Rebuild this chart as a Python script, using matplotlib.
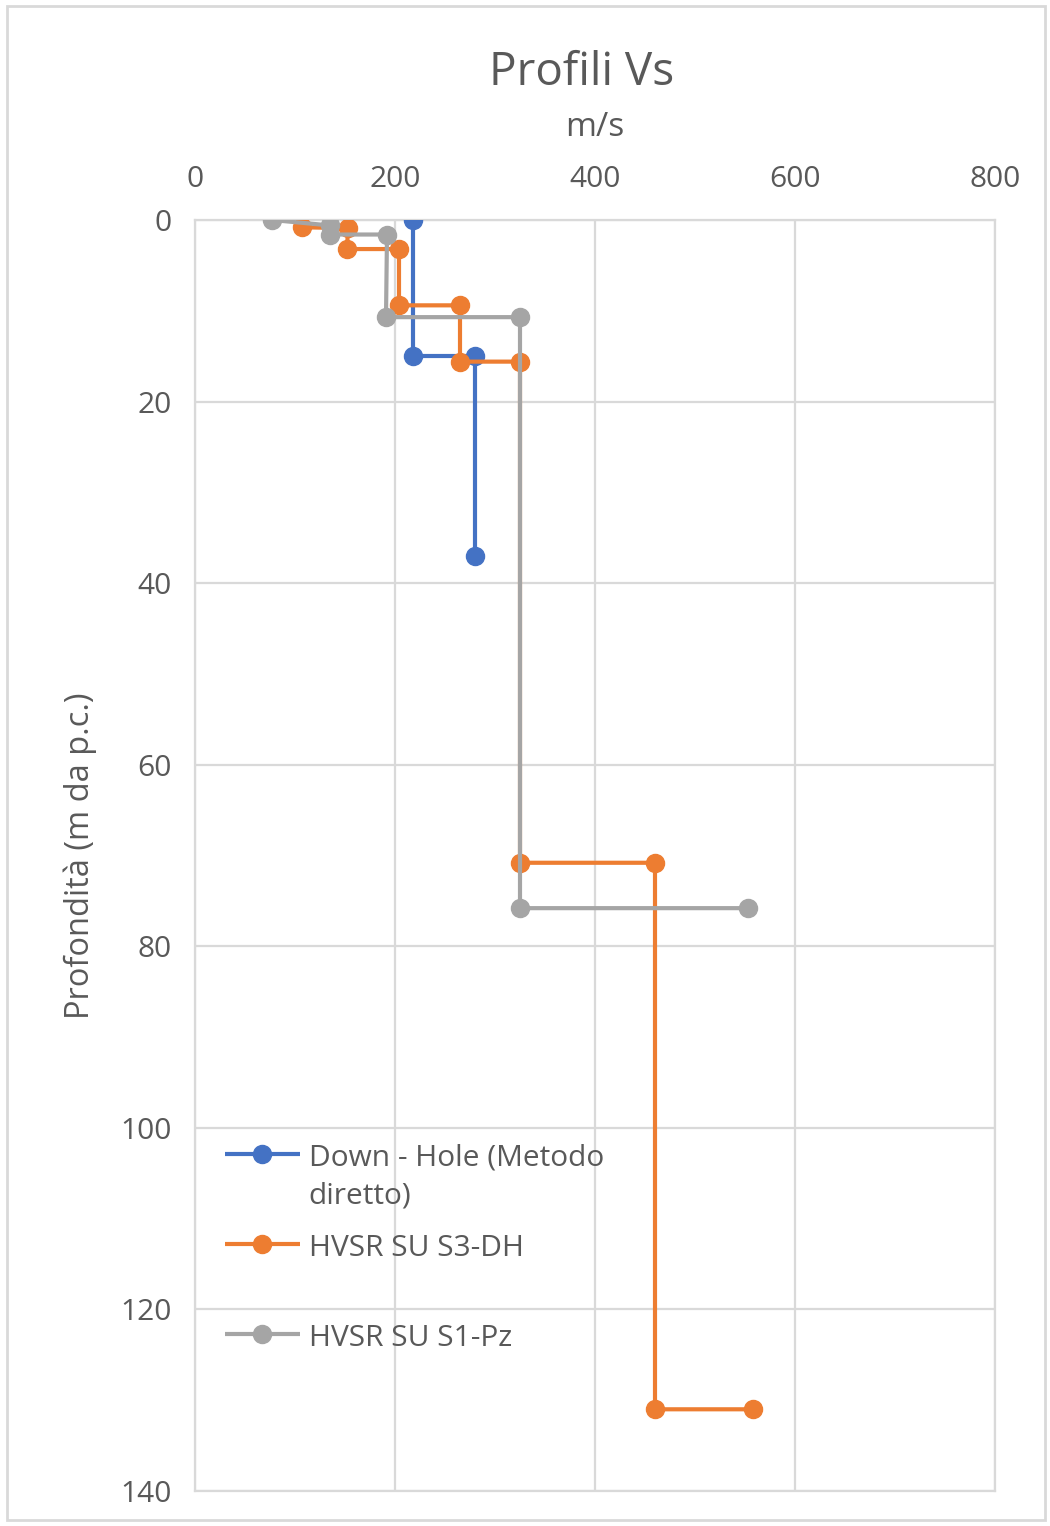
import matplotlib
matplotlib.use("Agg")
import matplotlib.pyplot as plt
from matplotlib.legend_handler import HandlerLine2D
from matplotlib.patches import Rectangle

# Vs profiles (m/s) vs depth (m)
dh_vs = [218, 218, 280, 280]
dh_depth = [0, 15.0, 15.0, 37.0]

s3_vs = [107, 153, 152, 204, 204, 265, 265, 325, 325, 460, 460, 558]
s3_depth = [0.8, 0.9, 3.2, 3.2, 9.4, 9.4, 15.6, 15.6, 70.8, 70.8, 131.0, 131.0]

s1_vs = [77, 135, 135, 192, 191, 325, 325, 553]
s1_depth = [0, 0.6, 1.6, 1.6, 10.7, 10.7, 75.8, 75.8]

series_labels = ["Down - Hole (Metodo\ndiretto)", "HVSR SU S3-DH\n ", "HVSR SU S1-Pz\n "]
series_colors = ["#4472C4", "#ED7D31", "#A5A5A5"]

x_ticks = [0, 200, 400, 600, 800]
y_ticks = [0, 20, 40, 60, 80, 100, 120, 140]

text_color = "#595959"
grid_color = "#D9D9D9"

plt.rcParams["font.family"] = ["Open Sans", "DejaVu Sans"]


class FirstLineHandler(HandlerLine2D):
    # put the legend handle next to the first line of the label, like Excel
    def create_artists(self, legend, orig_handle, xdescent, ydescent,
                       width, height, fontsize, trans):
        shift = 0.8 * fontsize
        return super().create_artists(legend, orig_handle, xdescent,
                                      ydescent - 2 * shift, width, height,
                                      fontsize, trans)


fig = plt.figure(figsize=(10.5, 15.26), dpi=100)
ax = fig.add_axes([195 / 1050, 1 - 1491 / 1526, 800 / 1050, 1271 / 1526])

lines = []
for xs, ys, col, lab in zip([dh_vs, s3_vs, s1_vs], [dh_depth, s3_depth, s1_depth],
                            series_colors, series_labels):
    ln, = ax.plot(xs, ys, color=col, lw=3, marker="o", ms=13, label=lab,
                  solid_capstyle="butt", zorder=3)
    lines.append(ln)

ax.set_xlim(0, 800)
ax.set_ylim(140, 0)
ax.set_xticks(x_ticks)
ax.set_yticks(y_ticks)
ax.xaxis.tick_top()
ax.xaxis.set_label_position("top")
ax.tick_params(axis="both", length=0, labelsize=21.5, colors=text_color)
ax.tick_params(axis="x", pad=19)
ax.tick_params(axis="y", pad=17)
ax.grid(True, color=grid_color, lw=1.6)
for sp in ax.spines.values():
    sp.set_color(grid_color)
    sp.set_linewidth(1.6)
ax.set_axisbelow(True)

ax.set_xlabel("m/s", fontsize=24, color=text_color, va="center")
ax.xaxis.set_label_coords(0.5, 1 + 93 / 1271)
ax.set_ylabel("Profondità (m da p.c.)", fontsize=23.5, color=text_color, va="center")
ax.yaxis.set_label_coords(-(195 - 80) / 800, 0.5)

fig.text(582 / 1050, 1 - 73 / 1526, "Profili Vs", fontsize=33, color=text_color,
         ha="center", va="center")

leg = ax.legend(handles=lines, loc="upper left",
                bbox_to_anchor=(30 / 800, (1490 - 1143) / 1271),
                frameon=False, fontsize=21.5, labelcolor=text_color, borderpad=0,
                borderaxespad=0, handlelength=2.5, handletextpad=0.3, labelspacing=0.78,
                handler_map={ln: FirstLineHandler() for ln in lines})
for t in leg.get_texts():
    t.set_linespacing(1.4)

fig.patches.append(Rectangle((7 / 1050, 6 / 1526), 1038 / 1050, 1514 / 1526,
                             transform=fig.transFigure, fill=False,
                             edgecolor=grid_color, lw=2))

fig.savefig("out.png", dpi=100)
